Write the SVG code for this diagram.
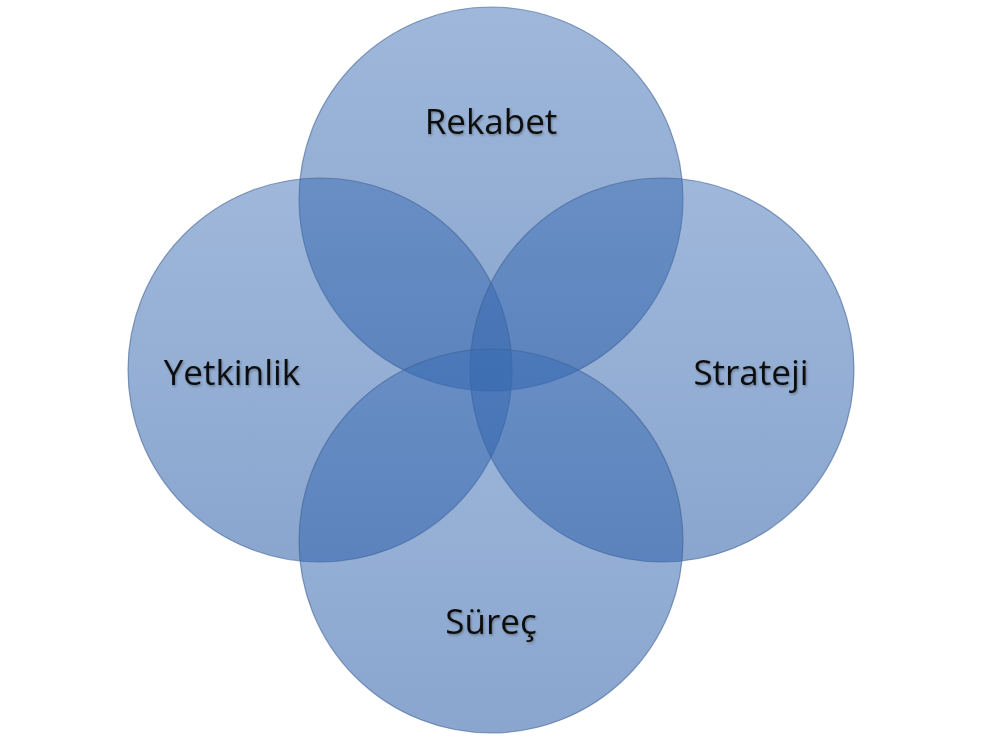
<svg xmlns="http://www.w3.org/2000/svg" width="982" height="748" viewBox="0 0 982 748">
<defs>
<linearGradient id="g" x1="0" y1="0" x2="0" y2="1">
<stop offset="0" stop-color="#3a6cb4" stop-opacity="0.49"/>
<stop offset="1" stop-color="#2a5ca6" stop-opacity="0.55"/>
</linearGradient>
<filter id="ts" x="-10%" y="-20%" width="120%" height="140%">
<feDropShadow dx="1" dy="1.5" stdDeviation="1" flood-color="#000" flood-opacity="0.3"/>
</filter>
</defs>
<style>
.c{fill:url(#g);stroke:#3d5f8f;stroke-opacity:0.55;stroke-width:1.2}
.t{font-family:"Open Sans","Noto Sans","Liberation Sans",sans-serif;font-size:35px;font-weight:500;fill:#111;text-anchor:middle;filter:url(#ts)}
</style>
<rect width="982" height="748" fill="#fff"/>
<g id="rekabet"><circle class="c" cx="491" cy="199" r="192"/></g>
<g id="yetkinlik"><circle class="c" cx="320" cy="370" r="192"/></g>
<g id="strateji"><circle class="c" cx="662" cy="370" r="192"/></g>
<g id="surec"><circle class="c" cx="491" cy="541" r="192"/></g>
<g id="labels">
<text class="t" x="491" y="134">Rekabet</text>
<text class="t" x="232" y="385">Yetkinlik</text>
<text class="t" x="751" y="385">Strateji</text>
<text class="t" x="491" y="634">Süreç</text>
</g>
</svg>
